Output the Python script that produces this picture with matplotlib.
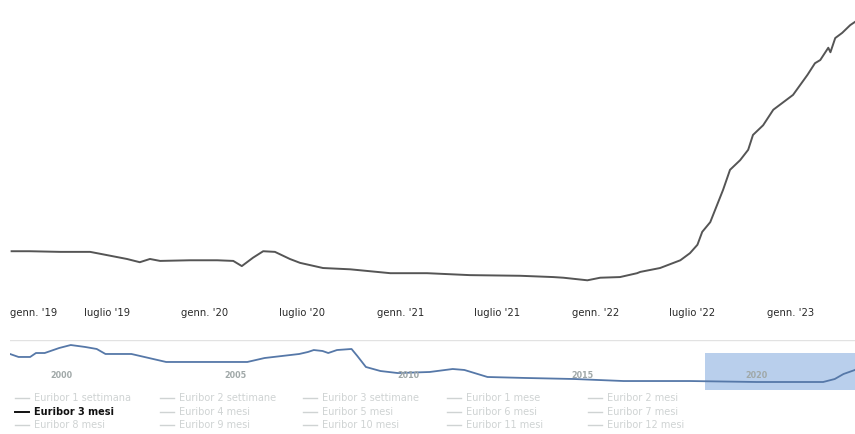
import matplotlib.pyplot as plt
from matplotlib.lines import Line2D
import numpy as np

# Euribor 3 mesi, dettaglio 2019-2023 (%)
main_dates = [
    "2019-01-04", "2019-02-07", "2019-04-05", "2019-05-31", "2019-06-19", "2019-08-08",
    "2019-09-01", "2019-09-20", "2019-10-09", "2019-12-04", "2020-01-24", "2020-02-23",
    "2020-03-10", "2020-03-31", "2020-04-19", "2020-05-11", "2020-06-08", "2020-06-27",
    "2020-08-09", "2020-09-29", "2020-12-13", "2021-02-20", "2021-05-11", "2021-08-13",
    "2021-10-14", "2021-11-02", "2021-12-17", "2022-01-10", "2022-02-16", "2022-03-20",
    "2022-03-26", "2022-05-02", "2022-06-09", "2022-06-27", "2022-07-11", "2022-07-20",
    "2022-08-04", "2022-08-28", "2022-09-10", "2022-09-29", "2022-10-14", "2022-10-23",
    "2022-11-11", "2022-11-30", "2023-01-06", "2023-02-02", "2023-02-16", "2023-02-26",
    "2023-03-13", "2023-03-17", "2023-03-26", "2023-04-08", "2023-04-23", "2023-05-02",
]
main_values = [
    -0.15, -0.15, -0.16, -0.16, -0.19, -0.27,
    -0.32, -0.27, -0.30, -0.29, -0.29, -0.30,
    -0.38, -0.25, -0.15, -0.16, -0.27, -0.33,
    -0.41, -0.43, -0.49, -0.49, -0.52, -0.53,
    -0.55, -0.56, -0.60, -0.56, -0.55, -0.49,
    -0.47, -0.41, -0.29, -0.18, -0.05, 0.15,
    0.30, 0.80, 1.11, 1.26, 1.42, 1.65,
    1.80, 2.04, 2.27, 2.58, 2.76, 2.81,
    3.00, 2.93, 3.15, 3.23, 3.35, 3.40,
]

# serie completa per il navigatore (%)
nav_dates = [
    "1999-01", "1999-04", "1999-08", "1999-10", "2000-01", "2000-06", "2000-10",
    "2001-03", "2001-07", "2001-10", "2002-07", "2002-10", "2003-07", "2004-06",
    "2005-11", "2006-05", "2007-05", "2007-08", "2007-10", "2008-01", "2008-03",
    "2008-06", "2008-11", "2009-01", "2009-04", "2009-09", "2010-03", "2011-02",
    "2011-10", "2012-02", "2012-10", "2013-11", "2015-04", "2016-09", "2018-08",
    "2020-07", "2022-06", "2022-10", "2023-01", "2023-05",
]
nav_values = [
    3.20, 2.80, 2.80, 3.33, 3.33, 4.00, 4.40,
    4.14, 3.87, 3.20, 3.20, 2.93, 2.13, 2.13,
    2.13, 2.66, 3.20, 3.47, 3.73, 3.60, 3.33,
    3.73, 3.87, 2.93, 1.46, 0.92, 0.65, 0.79,
    1.19, 1.06, 0.12, -0.01, -0.15, -0.42, -0.42,
    -0.55, -0.55, -0.15, 0.52, 1.06,
]

tick_dates = ["2019-01-01", "2019-07-01", "2020-01-01", "2020-07-01", "2021-01-01",
              "2021-07-01", "2022-01-01", "2022-07-01", "2023-01-01"]
tick_labels = ["genn. '19", "luglio '19", "genn. '20", "luglio '20", "genn. '21",
               "luglio '21", "genn. '22", "luglio '22", "genn. '23"]

nav_years = [2000, 2005, 2010, 2015, 2020]

legend_names = [
    "Euribor 1 settimana", "Euribor 2 settimane", "Euribor 3 settimane", "Euribor 1 mese", "Euribor 2 mesi",
    "Euribor 3 mesi", "Euribor 4 mesi", "Euribor 5 mesi", "Euribor 6 mesi", "Euribor 7 mesi",
    "Euribor 8 mesi", "Euribor 9 mesi", "Euribor 10 mesi", "Euribor 11 mesi", "Euribor 12 mesi",
]
active_series = "Euribor 3 mesi"

W, H = 855, 434
fig = plt.figure(figsize=(W / 100, H / 100), dpi=100)
fig.patch.set_facecolor("white")


def box(x0, y0, x1, y1):
    # pixel box (top-left origin) -> figure fraction rect
    return [x0 / W, 1 - y1 / H, (x1 - x0) / W, (y1 - y0) / H]


# --- grafico principale ---
ax = fig.add_axes(box(10, 0, 855, 300))
md = np.array(main_dates, dtype="datetime64[D]")
ax.plot(md, main_values, color="#555555", lw=1.4, solid_joinstyle="round")
ax.set_xlim(np.datetime64("2019-01-01"), np.datetime64("2023-05-02"))
ax.set_ylim(-0.905, 3.739)
for s in ax.spines.values():
    s.set_visible(False)
ax.set_yticks([])
ax.set_xticks(np.array(tick_dates, dtype="datetime64[D]"))
ax.set_xticklabels(tick_labels, fontsize=7.2, color="#2a2a2a")
ax.tick_params(axis="x", length=0, pad=6)
ax.get_xticklabels()[0].set_ha("left")
ax.patch.set_alpha(0)

# --- navigatore ---
nav = fig.add_axes(box(10, 340, 855, 390))
nd = np.array([d + "-01" for d in nav_dates], dtype="datetime64[D]")
nav.set_xlim(np.datetime64("1999-01-01"), np.datetime64("2023-05-02"))
nav.set_ylim(-1.621, 5.072)
nav.axvspan(np.datetime64("2019-01-01"), np.datetime64("2023-05-02"),
            ymin=0, ymax=0.74, color="#a8c3e8", alpha=0.8, lw=0)
nav.plot(nd, nav_values, color="#5678a8", lw=1.3)
for s in nav.spines.values():
    s.set_visible(False)
nav.axhline(5.072, color="#e2e2e2", lw=1)
nav.set_xticks([])
nav.set_yticks([])
nav.patch.set_alpha(0)
for yr in nav_years:
    nav.text(np.datetime64(f"{yr}-03-01"), 0.3, str(yr), fontsize=5.8,
             color="#a0a8a8", va="center", ha="left", fontweight="bold")

# --- legenda ---
col_x = [15, 160, 303, 447, 588]
row_y = [398, 412, 425]
for i, name in enumerate(legend_names):
    r, c = divmod(i, 5)
    x, y = col_x[c], row_y[r]
    on = name == active_series
    color = "#111111" if on else "#cfd3d3"
    fig.add_artist(Line2D([x / W, (x + 14) / W], [1 - y / H, 1 - y / H],
                          color=color, lw=1.4 if on else 1.0))
    fig.text((x + 19) / W, 1 - y / H, name, fontsize=7, color=color,
             va="center", ha="left", fontweight="bold" if on else "normal")

fig.savefig("out.png", dpi=100)
